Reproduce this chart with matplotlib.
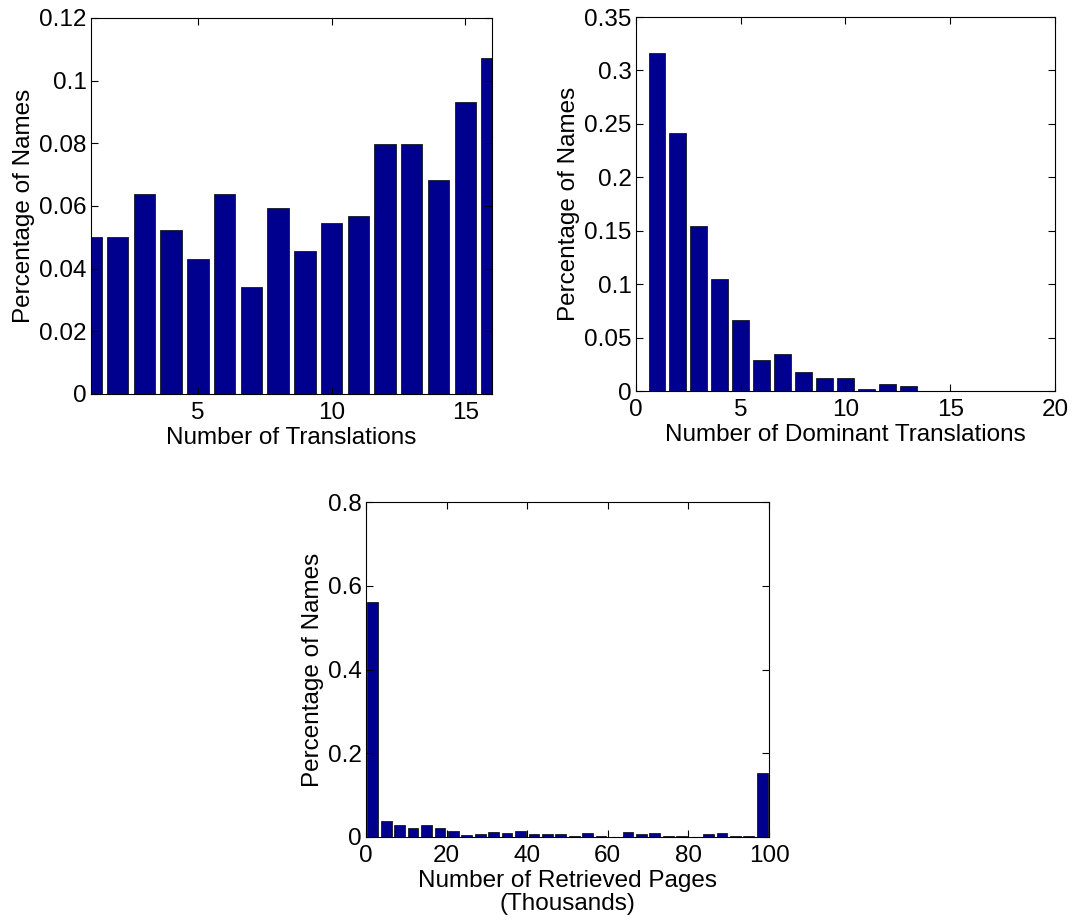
import numpy as np
import matplotlib
matplotlib.use("Agg")
import matplotlib.pyplot as plt

plt.rcParams["font.family"] = ["Liberation Sans", "DejaVu Sans"]

# panel 1: number of translations
n_trans = list(range(1, 17))
pct_trans = [0.0500, 0.0500, 0.0638, 0.0524, 0.0432, 0.0638, 0.0341, 0.0592,
             0.0455, 0.0546, 0.0569, 0.0797, 0.0797, 0.0684, 0.0933, 0.1071]

# panel 2: number of dominant translations
n_dom = list(range(1, 20))
pct_dom = [0.3163, 0.2412, 0.1549, 0.1053, 0.0661, 0.0293, 0.0346, 0.0181,
           0.0118, 0.0118, 0.0022, 0.0065, 0.0050, 0, 0, 0, 0, 0, 0]

# panel 3: retrieved pages (thousands), 30 bins over 0..100
page_bin_w = 100 / 30
page_centers = [page_bin_w * (i + 0.5) for i in range(30)]
pct_pages = [0.562, 0.0375, 0.0295, 0.0215, 0.0295, 0.0215, 0.015, 0.005,
             0.007, 0.013, 0.0096, 0.015, 0.007, 0.007, 0.007, 0.003, 0.0096,
             0.003, 0.0, 0.011, 0.007, 0.0096, 0.003, 0.003, 0.0, 0.007,
             0.0096, 0.003, 0.003, 0.152]

bar_color = "#00008F"
fs = 17.5

fig = plt.figure(figsize=(10.73, 9.22), dpi=100)
fig.patch.set_facecolor("white")


def style(ax):
    ax.tick_params(direction="in", length=5, width=0.8, top=True, right=True,
                   labelsize=fs, pad=3)
    ax.tick_params(axis="x", pad=6)
    for s in ax.spines.values():
        s.set_linewidth(0.8)
        s.set_color("black")


ax1 = fig.add_axes([0.0848, 0.5727, 0.3737, 0.4078])
ax1.bar(n_trans, pct_trans, width=0.8, color=bar_color, edgecolor="black", linewidth=0.5)
ax1.set_xlim(1, 16)
ax1.set_ylim(0, 0.12)
ax1.set_xticks([5, 10, 15])
ax1.set_yticks([0, 0.02, 0.04, 0.06, 0.08, 0.1, 0.12])
ax1.set_yticklabels(["0", "0.02", "0.04", "0.06", "0.08", "0.1", "0.12"])
ax1.set_xlabel("Number of Translations", fontsize=fs, labelpad=2)
ax1.set_ylabel("Percentage of Names", fontsize=fs, labelpad=3)
style(ax1)

ax2 = fig.add_axes([0.5927, 0.5759, 0.3905, 0.4056])
ax2.bar(n_dom, pct_dom, width=0.8, color=bar_color, edgecolor="black", linewidth=0.5)
ax2.set_xlim(0, 20)
ax2.set_ylim(0, 0.35)
ax2.set_xticks([0, 5, 10, 15, 20])
ax2.set_yticks([0, 0.05, 0.1, 0.15, 0.2, 0.25, 0.3, 0.35])
ax2.set_yticklabels(["0", "0.05", "0.1", "0.15", "0.2", "0.25", "0.3", "0.35"])
ax2.set_xlabel("Number of Dominant Translations", fontsize=fs, labelpad=2)
ax2.set_ylabel("Percentage of Names", fontsize=fs, labelpad=3)
style(ax2)

ax3 = fig.add_axes([0.3411, 0.0922, 0.3756, 0.3633])
ax3.bar(page_centers, pct_pages, width=0.8 * page_bin_w, color=bar_color,
        edgecolor="black", linewidth=0.5)
ax3.set_xlim(0, 100)
ax3.set_ylim(0, 0.8)
ax3.set_xticks([0, 20, 40, 60, 80, 100])
ax3.set_yticks([0, 0.2, 0.4, 0.6, 0.8])
ax3.set_yticklabels(["0", "0.2", "0.4", "0.6", "0.8"])
ax3.set_xlabel("Number of Retrieved Pages\n(Thousands)", fontsize=fs, labelpad=2,
               linespacing=1.05)
ax3.set_ylabel("Percentage of Names", fontsize=fs, labelpad=3)
style(ax3)

fig.savefig("out.png", dpi=100, facecolor="white")
